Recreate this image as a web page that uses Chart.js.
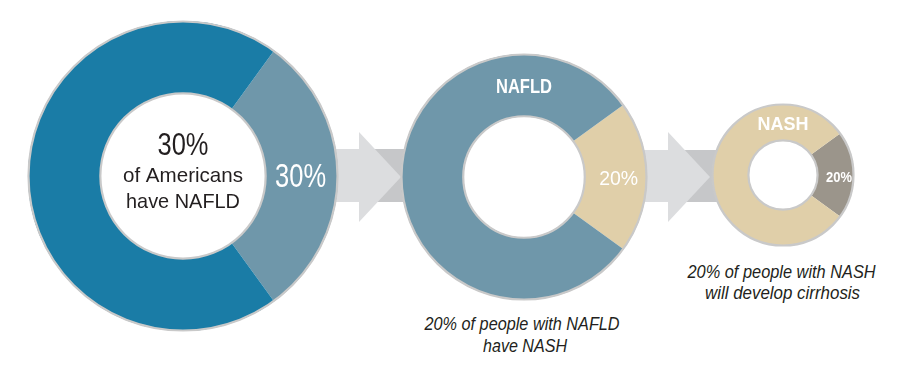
<!DOCTYPE html>
<html>
<head>
<meta charset="utf-8">
<script src="https://cdn.jsdelivr.net/npm/chart.js@4.4.1/dist/chart.umd.min.js"></script>
<style>
  html, body { margin: 0; padding: 0; background: #ffffff; }
  #stage { position: relative; width: 921px; height: 382px; overflow: hidden; background: #fff; }
  canvas { position: absolute; }
  svg { position: absolute; left: 0; top: 0; }
  .cap { position: absolute; font-family: "Liberation Sans", Arial, sans-serif;
         font-style: italic; color: #231f20; font-size: 18px; line-height: 22px; white-space: nowrap;
         display: inline-block; transform-origin: 50% 50%; }
</style>
</head>
<body>
<div id="stage">
  <svg width="921" height="382">
    <rect x="358" y="149" width="52" height="53" fill="#c6c7c9"/>
    <polygon points="320,149 359,149 359,132 401,177 359,222 359,202 320,202" fill="#dcdddf"/>
    <rect x="667" y="150" width="52" height="52" fill="#c6c7c9"/>
    <polygon points="630,150 668,150 668,132 710,177 668,222 668,202 630,202" fill="#dcdddf"/>
  </svg>
  <canvas id="c1" width="316" height="316" style="left:25px;top:18px"></canvas>
  <canvas id="c2" width="252" height="252" style="left:398px;top:51px"></canvas>
  <canvas id="c3" width="148" height="148" style="left:709px;top:101px"></canvas>
  <div class="cap" data-cx="522" data-w="195" style="top:313px;">20% of people with NAFLD</div>
  <div class="cap" data-cx="525" data-w="84" style="top:335px;">have NASH</div>
  <div class="cap" data-cx="781" data-w="188" style="top:261px;">20% of people with NASH</div>
  <div class="cap" data-cx="782" data-w="155" style="top:282px;">will develop cirrhosis</div>
</div>
<script>
// ---- data ----
const americansLabels = ['NAFLD', 'No NAFLD'];
const americansValues = [30, 70];
const nafldLabels = ['NASH', 'NAFLD without NASH'];
const nafldValues = [20, 80];
const nashLabels = ['Cirrhosis', 'NASH without cirrhosis'];
const nashValues = [20, 80];
const sliceLabels = ['30%', '20%', '20%'];
const ringTitles = ['', 'NAFLD', 'NASH'];
const centerLines = ['30%', 'of Americans', 'have NAFLD'];

const FONT = '"Liberation Sans", Arial, sans-serif';

// draw text horizontally condensed to a target width
function fitText(ctx, text, x, y, font, width) {
  ctx.font = font + ' ' + FONT;
  const m = ctx.measureText(text).width;
  const sx = width / m;
  ctx.save();
  ctx.translate(x, y);
  ctx.scale(sx, 1);
  ctx.fillText(text, 0, 0);
  ctx.restore();
}

const ringPlugin = {
  id: 'ringDeco',
  afterDatasetsDraw(chart, args, o) {
    const ctx = chart.ctx;
    const arc = chart.getDatasetMeta(0).data[0];
    const cx = arc.x, cy = arc.y, ro = arc.outerRadius, ri = arc.innerRadius;
    ctx.save();
    ctx.beginPath(); ctx.arc(cx, cy, ri, 0, Math.PI * 2); ctx.fillStyle = '#fff'; ctx.fill();
    ctx.strokeStyle = '#c9c9c9'; ctx.lineWidth = 2.2;
    ctx.beginPath(); ctx.arc(cx, cy, ro - 0.5, 0, Math.PI * 2); ctx.stroke();
    ctx.beginPath(); ctx.arc(cx, cy, ri + 0.5, 0, Math.PI * 2); ctx.stroke();
    const p = arc.tooltipPosition();
    ctx.fillStyle = '#ffffff';
    ctx.textAlign = 'center'; ctx.textBaseline = 'alphabetic';
    fitText(ctx, o.sliceText, p.x + o.sliceDx, p.y + o.sliceDy, o.sliceFont, o.sliceW);
    if (o.title) {
      fitText(ctx, o.title, cx, cy - (ro + ri) / 2 + o.titleDy, o.titleFont, o.titleW);
    }
    if (o.center) {
      ctx.fillStyle = '#231f20';
      fitText(ctx, o.center[0], cx, cy - 21, '32px', 51);
      fitText(ctx, o.center[1], cx, cy + 6, '21px', 120);
      fitText(ctx, o.center[2], cx, cy + 32, '21px', 114);
    }
    ctx.restore();
  }
};

function makeChart(id, labels, values, colors, cutout, deco) {
  return new Chart(document.getElementById(id), {
    type: 'doughnut',
    data: { labels: labels, datasets: [{ data: values, backgroundColor: colors, borderWidth: 0 }] },
    options: {
      responsive: false, animation: false, devicePixelRatio: 1,
      cutout: cutout,
      rotation: 90 - values[0] * 3.6 / 2,
      layout: { padding: 3 },
      plugins: { legend: { display: false }, tooltip: { enabled: false }, ringDeco: deco }
    },
    plugins: [ringPlugin]
  });
}

makeChart('c1', americansLabels, americansValues, ['#6f97aa', '#1a7ca6'], '53%',
  { sliceText: sliceLabels[0], sliceFont: '33px', sliceW: 51, sliceDx: -1, sliceDy: 11, title: ringTitles[0], center: centerLines });
makeChart('c2', nafldLabels, nafldValues, ['#e0cfa9', '#6f97aa'], '49%',
  { sliceText: sliceLabels[1], sliceFont: '21px', sliceW: 39, sliceDx: 3, sliceDy: 8, title: ringTitles[1], titleFont: 'bold 21px', titleW: 56, titleDy: 7.5 });
makeChart('c3', nashLabels, nashValues, ['#9b958b', '#e0cfa9'], '48%',
  { sliceText: sliceLabels[2], sliceFont: 'bold 14px', sliceW: 26, sliceDx: 3.5, sliceDy: 7, title: ringTitles[2], titleFont: 'bold 18px', titleW: 51, titleDy: 7.5 });

// condense caption lines to the reference widths
document.querySelectorAll('.cap').forEach(el => {
  const w = el.offsetWidth;
  const cx = +el.dataset.cx, tw = +el.dataset.w;
  el.style.left = (cx - w / 2) + 'px';
  el.style.transform = 'scaleX(' + (tw / w) + ')';
});
</script>
</body>
</html>
